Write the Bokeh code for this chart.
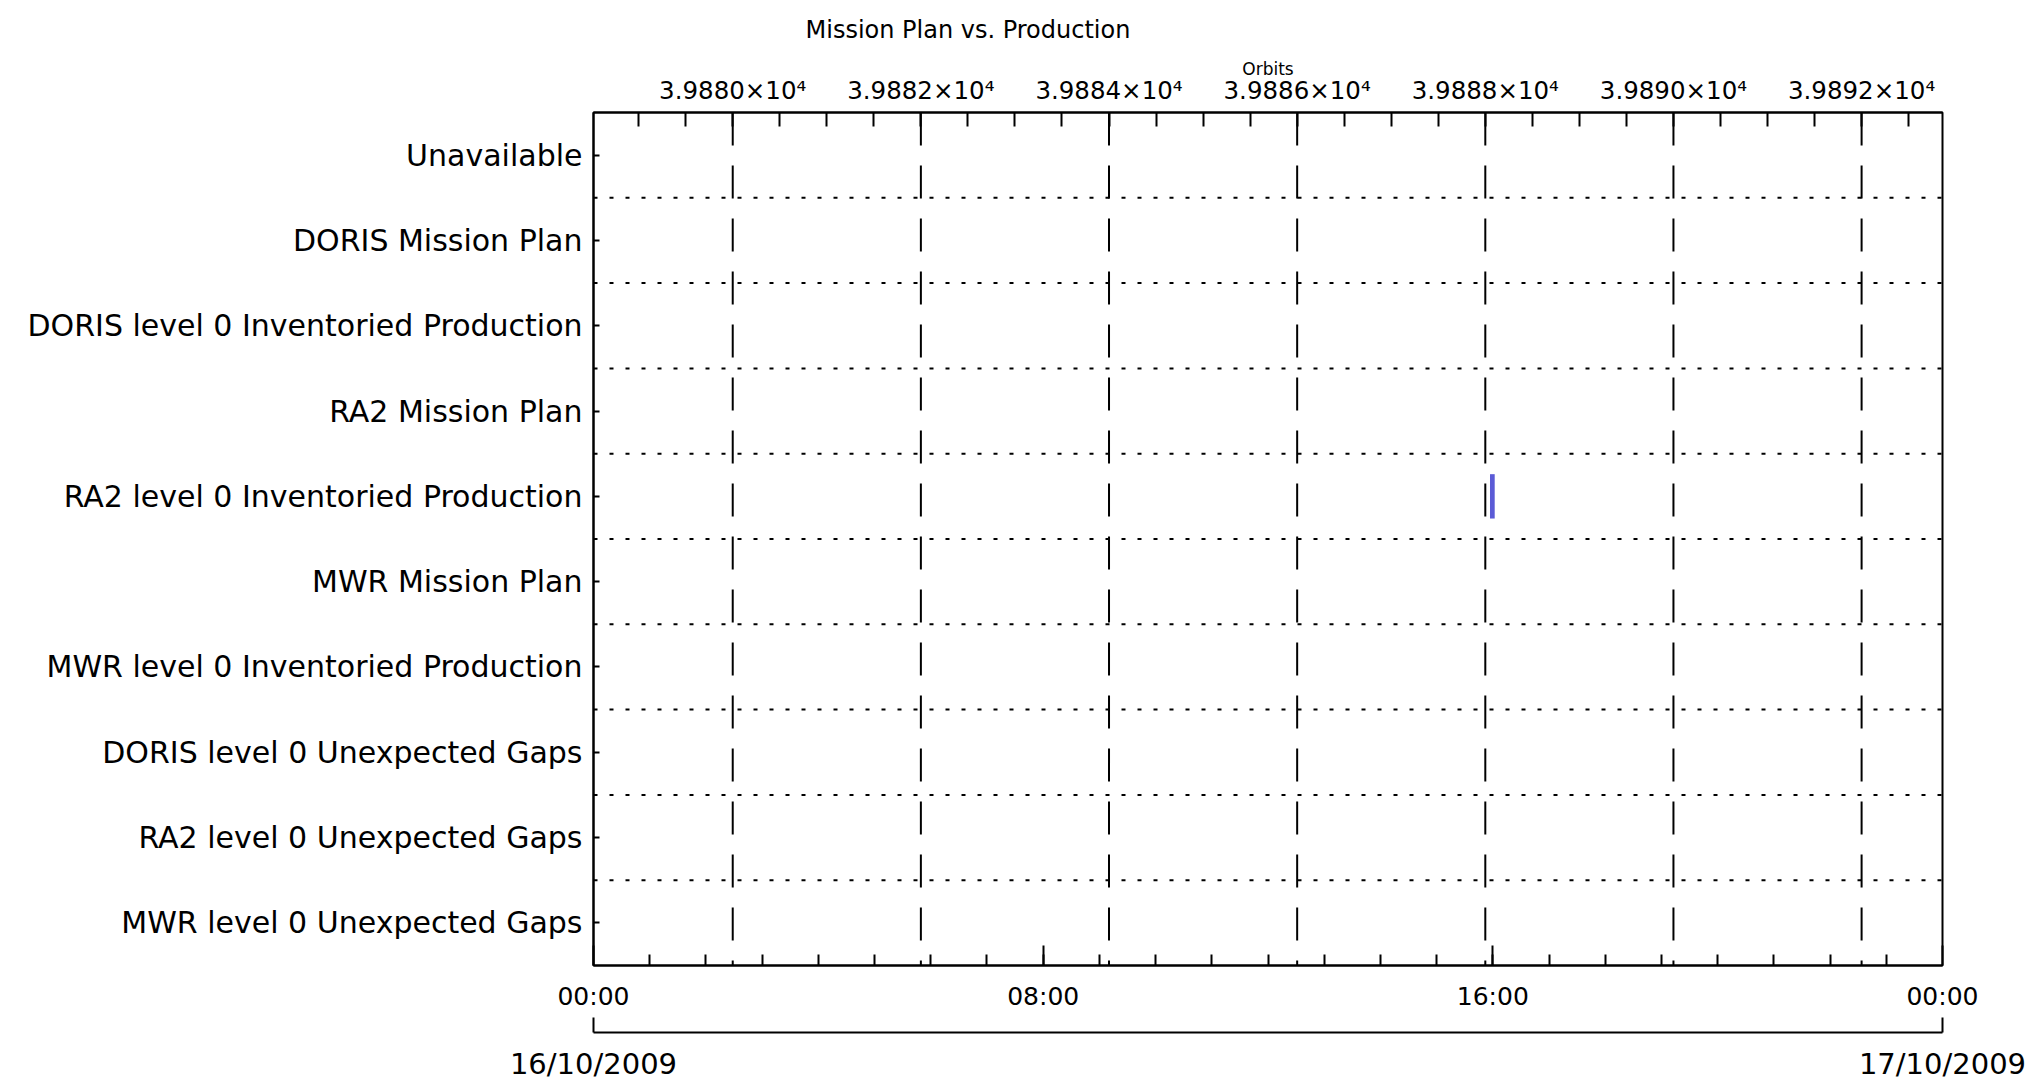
from bokeh.plotting import figure
from bokeh.models import LinearAxis, Range1d, FixedTicker
from bokeh.embed import file_html
from bokeh.resources import INLINE

# ---------------- data ----------------
title_text = "Mission Plan vs. Production"
categories = [
    "Unavailable",
    "DORIS Mission Plan",
    "DORIS level 0 Inventoried Production",
    "RA2 Mission Plan",
    "RA2 level 0 Inventoried Production",
    "MWR Mission Plan",
    "MWR level 0 Inventoried Production",
    "DORIS level 0 Unexpected Gaps",
    "RA2 level 0 Unexpected Gaps",
    "MWR level 0 Unexpected Gaps",
]

# time axis (hours since 16/10/2009 00:00)
time_ticks = [0, 8, 16, 24]
time_tick_labels = ["00:00", "08:00", "16:00", "00:00"]
date_ticks = [0, 24]
date_labels = ["16/10/2009", "17/10/2009"]

# orbit axis
orbit_start = 39878.52
orbit_end = 39892.86
orbit_ticks = [39880, 39882, 39884, 39886, 39888, 39890, 39892]
orbit_tick_labels = ["3.9880×10⁴", "3.9882×10⁴", "3.9884×10⁴", "3.9886×10⁴",
                     "3.9888×10⁴", "3.9890×10⁴", "3.9892×10⁴"]

# intervals drawn as bars
bar_rows = ["RA2 level 0 Inventoried Production"]
bar_start = ["15:57"]
bar_end = ["16:02"]
bar_colors = ["#5b5bd6"]

# ---------------- helpers ----------------
def hours(s):
    h, m = s.split(":")
    return int(h) + int(m) / 60.0

n = len(categories)
row_y = {c: n - i - 0.5 for i, c in enumerate(categories)}

FONT = "DejaVu Sans"

p = figure(width=2038, height=1083,
           x_range=Range1d(0, 24), y_range=Range1d(0, n),
           x_axis_location=None, y_axis_location=None,
           output_backend="svg", toolbar_location=None,
           min_border_left=593, min_border_right=96,
           min_border_top=112, min_border_bottom=117)
p.extra_x_ranges = {"orbits": Range1d(orbit_start, orbit_end)}
p.grid.visible = False
p.background_fill_color = "white"
p.border_fill_color = "white"
p.outline_line_color = "black"
p.outline_line_width = 2
p.outline_line_alpha = 1.0

# title
p.title.text = title_text
p.title.text_font = FONT
p.title.text_font_size = "24px"
p.title.text_font_style = "normal"
p.title.align = "left"
p.title.offset = 212
p.title.standoff = 24
p.title.vertical_align = "bottom"
p.title.text_color = "black"

def style_axis(ax, size):
    ax.axis_line_color = "black"
    ax.axis_line_width = 2
    ax.major_tick_line_color = "black"
    ax.major_tick_line_width = 2
    ax.minor_tick_line_color = "black"
    ax.minor_tick_line_width = 2
    ax.major_label_text_font = FONT
    ax.major_label_text_font_size = size
    ax.major_label_text_color = "black"

# left categorical axis
yax = LinearAxis(ticker=FixedTicker(ticks=[row_y[c] for c in categories], minor_ticks=[]),
                 major_label_overrides={row_y[c]: c for c in categories})
style_axis(yax, "30px")
yax.major_tick_in = 6
yax.major_tick_out = 0
yax.major_label_standoff = 11
p.add_layout(yax, "left")

# top orbit axis
orbit_minor = [orbit_ticks[0] + 0.5 * k for k in range(-2, 4 * (len(orbit_ticks) - 1) + 2)]
oax = LinearAxis(x_range_name="orbits",
                 ticker=FixedTicker(ticks=orbit_ticks, minor_ticks=orbit_minor),
                 major_label_overrides={t: l for t, l in zip(orbit_ticks, orbit_tick_labels)},
                 axis_label="Orbits")
style_axis(oax, "24.5px")
oax.major_tick_in = 0
oax.major_tick_out = 0
oax.minor_tick_in = 14
oax.minor_tick_out = 0
oax.major_label_standoff = 8
oax.axis_label_text_font = FONT
oax.axis_label_text_font_size = "17px"
oax.axis_label_text_font_style = "normal"
oax.axis_label_text_color = "black"
oax.axis_label_standoff = -6
p.add_layout(oax, "above")

# bottom time axis
tax = LinearAxis(ticker=FixedTicker(ticks=time_ticks, minor_ticks=list(range(1, 24))),
                 major_label_overrides={t: l for t, l in zip(time_ticks, time_tick_labels)},
                 axis_label=" ")
style_axis(tax, "25px")
tax.major_tick_in = 20
tax.major_tick_out = 0
tax.minor_tick_in = 11
tax.minor_tick_out = 0
tax.major_label_standoff = 16
tax.axis_label_text_font_size = "10px"
tax.axis_label_standoff = 5
p.add_layout(tax, "below")

# bottom date axis
dax = LinearAxis(ticker=FixedTicker(ticks=date_ticks, minor_ticks=[]),
                 major_label_overrides={t: l for t, l in zip(date_ticks, date_labels)})
style_axis(dax, "29px")
dax.major_tick_in = 15
dax.major_tick_out = 0
dax.major_label_standoff = 14
p.add_layout(dax, "below")

# horizontal dotted separators between rows
sep = list(range(1, n))
p.segment(x0=[0] * len(sep), x1=[24] * len(sep), y0=sep, y1=sep,
          line_color="black", line_width=2, line_dash="4 12")

# vertical dashed lines at orbit ticks
p.segment(x0=orbit_ticks, x1=orbit_ticks, y0=[n] * len(orbit_ticks), y1=[0] * len(orbit_ticks),
          x_range_name="orbits", line_color="black", line_width=2, line_dash="33 20")

# bars
p.quad(left=[hours(s) for s in bar_start], right=[hours(e) for e in bar_end],
       bottom=[row_y[r] - 0.26 for r in bar_rows], top=[row_y[r] + 0.26 for r in bar_rows],
       fill_color=bar_colors, line_color=None)

open("out.html", "w").write(file_html(p, INLINE))
